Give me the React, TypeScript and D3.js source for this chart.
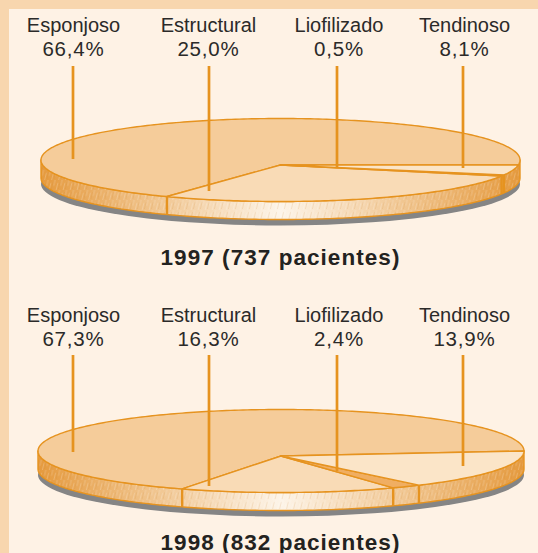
import React from "react";
import * as d3 from "d3";

const categories = ["Esponjoso", "Estructural", "Liofilizado", "Tendinoso"];
const titles = ["1997 (737 pacientes)", "1998 (832 pacientes)"];
const values1997 = [66.4, 25.0, 0.5, 8.1];
const values1998 = [67.3, 16.3, 2.4, 13.9];
// Drawn (foreshortened) angle, in degrees, of each slice edge
const drawnEdges1997 = [-7, 241.7, 337.4, 339, 353];
const drawnEdges1998 = [0, 246, 297.5, 304.6, 360];

const topFills = ["#f5cc9a", "#f9dbb6", "#f0ae62", "#fbe5c8"];
const ORANGE = "#e6931f";
const labelX = [73.5, 208.5, 339, 464.5];
const lineX = [73, 209, 337, 463];

const W = 538;
const H = 553;
const toRad = Math.PI / 180;
const FONT = "'Liberation Sans', sans-serif";

type Geo = { cx: number; cy: number; rx: number; ry: number; depth: number; apexDy: number };

function Pie({ id, values, edges, geo, lineStart, lineEnds, labelTop, titleY, title }: {
  id: string; values: number[]; edges: number[]; geo: Geo; lineStart: number; lineEnds: number[]; labelTop: number; titleY: number; title: string;
}) {
  const { cx, cy, rx, ry, depth, apexDy } = geo;
  const cumulative = [0, ...d3.cumsum(values)];
  const angle = d3.scaleLinear().domain(cumulative).range(edges);
  const pt = (a: number, dy = 0): [number, number] => [
    cx + rx * Math.cos(a * toRad),
    cy - ry * Math.sin(a * toRad) + dy,
  ];
  const line = d3.line();
  const arcPts = (a0: number, a1: number, dy = 0) => {
    const n = Math.max(2, Math.ceil(Math.abs(a1 - a0)));
    return d3.range(n + 1).map((i) => pt(a0 + ((a1 - a0) * i) / n, dy));
  };
  const slices = values.map((_, i) => ({ a0: angle(cumulative[i]), a1: angle(cumulative[i + 1]) }));
  const apex: [number, number] = [cx, cy + apexDy];
  const wallPath = line([...arcPts(180, 360), ...arcPts(360, 180, depth)]) + "Z";
  return (
    <g>
      <defs>
        <linearGradient id={id + "g"} gradientUnits="userSpaceOnUse" x1={cx - rx} x2={cx + rx} y1={0} y2={0}>
          <stop offset="0" stopColor="#e59a3e" />
          <stop offset="0.5" stopColor="#fdf4e8" />
          <stop offset="1" stopColor="#e59a3e" />
        </linearGradient>
        <pattern id={id + "h"} patternUnits="userSpaceOnUse" width={7} height={10} patternTransform="skewX(-14)">
          <path d="M2 0V6M5.5 3V10" stroke="#ffffff" strokeOpacity={0.2} strokeWidth={1} />
          <path d="M0.5 2V9" stroke="#c97f2a" strokeOpacity={0.14} strokeWidth={1} />
        </pattern>
      </defs>
      <ellipse cx={cx} cy={cy + depth + 6} rx={rx} ry={ry} fill="#858585" filter="url(#soft)" />
      <path d={wallPath} fill={`url(#${id}g)`} />
      <path d={wallPath} fill={`url(#${id}h)`} />
      <path d={wallPath} fill="none" stroke={ORANGE} strokeWidth={1.4} strokeLinejoin="round" />
      {slices.map((s, i) => (
        <path key={i} d={line([apex, ...arcPts(s.a0, s.a1)]) + "Z"} fill={topFills[i]} stroke={ORANGE} strokeWidth={1.4} strokeLinejoin="round" />
      ))}
      {slices.slice(0, -1).map((s, i) => (
        <path key={i} d={line([pt(s.a1), pt(s.a1, depth)])!} stroke={ORANGE} strokeWidth={2.4} fill="none" />
      ))}
      {categories.map((c, i) => (
        <g key={c}>
          <line x1={lineX[i]} x2={lineX[i]} y1={lineStart} y2={lineEnds[i]} stroke={ORANGE} strokeWidth={2.7} />
          <text x={labelX[i]} y={labelTop} textAnchor="middle" fontSize={20} fill="#2b2a29" fontFamily={FONT}>{c}</text>
          <text x={labelX[i]} y={labelTop + 24} textAnchor="middle" fontSize={20.5} letterSpacing={0.8} fill="#2b2a29" fontFamily={FONT}>
            {d3.format(".1f")(values[i]).replace(".", ",")}%
          </text>
        </g>
      ))}
      <text x={280.5} y={titleY} textAnchor="middle" fontSize={22.5} fontWeight={700} letterSpacing={1.05} fill="#232220" fontFamily={FONT}>{title}</text>
    </g>
  );
}

export default function App() {
  return (
    <svg width={W} height={H} viewBox={`0 0 ${W} ${H}`} style={{ position: "fixed", left: 0, top: 0, display: "block" }}>
      <defs>
        <filter id="soft" x="-5%" y="-20%" width="110%" height="140%"><feGaussianBlur stdDeviation={0.6} /></filter>
      </defs>
      <rect width={W} height={H} fill="#f8d6ae" />
      <rect x={9} y={9} width={W - 9} height={H - 9} fill="#fef2e5" />
      <Pie id="a" values={values1997} edges={drawnEdges1997} geo={{ cx: 280.5, cy: 160, rx: 239.5, ry: 41.5, depth: 18, apexDy: 5 }}
        lineStart={66} lineEnds={[159, 191, 167, 168]} labelTop={32} titleY={265} title={titles[0]} />
      <Pie id="b" values={values1998} edges={drawnEdges1998} geo={{ cx: 281, cy: 451, rx: 243, ry: 41.5, depth: 18, apexDy: 5 }}
        lineStart={355} lineEnds={[452, 486, 471, 466]} labelTop={322} titleY={550} title={titles[1]} />
    </svg>
  );
}
